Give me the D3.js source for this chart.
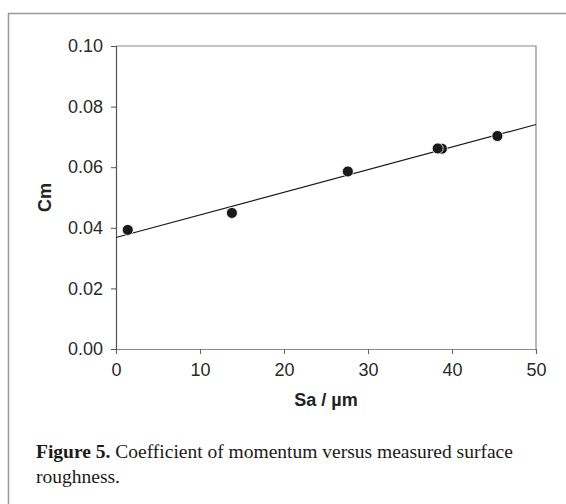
<!DOCTYPE html>
<html>
<head>
<meta charset="utf-8">
<script src="https://cdn.jsdelivr.net/npm/d3@7"></script>
<style>
  body { margin: 0; background: #fff; }
  svg { display: block; }
</style>
</head>
<body>
<svg id="grafico" width="566" height="504"></svg>
<script>
// dados
const SA = [1.4, 13.8, 27.6, 38.8, 38.3, 45.4];
const CM = [0.0393, 0.0449, 0.0586, 0.0661, 0.0662, 0.0703];
// reta ajustada (extremos)
const FIT_X = [0, 50];
const FIT_Y = [0.0368, 0.0741];
const X_TICKS = [0, 10, 20, 30, 40, 50];
const Y_TICKS = [0, 0.02, 0.04, 0.06, 0.08, 0.10];

const MARGEM = { left: 116, top: 46, right: 536, bottom: 349 };

const $svg = d3.select('#grafico');

// moldura da figura
$svg.append('rect')
  .attr('x', 8.5).attr('y', 13.5)
  .attr('width', 600).attr('height', 600)
  .attr('fill', 'none')
  .attr('stroke', '#999')
  .attr('stroke-width', 1.5);

const x = d3.scaleLinear().domain([0, 50]).range([MARGEM.left, MARGEM.right]);
const y = d3.scaleLinear().domain([0, 0.10]).range([MARGEM.bottom, MARGEM.top]);

// caixa do gráfico (topo e direita)
$svg.append('path')
  .attr('d', `M${MARGEM.left},${MARGEM.top}H${MARGEM.right}V${MARGEM.bottom}`)
  .attr('fill', 'none')
  .attr('stroke', '#8a8a8a')
  .attr('stroke-width', 1.2);

const FONTE = 'Arial, "Liberation Sans", sans-serif';

const eixoX = $svg.append('g')
  .attr('transform', `translate(0,${MARGEM.bottom})`)
  .call(d3.axisBottom(x).tickValues(X_TICKS).tickSize(5).tickPadding(9).tickFormat(d3.format('d')));
eixoX.select('.domain').attr('stroke', '#8a8a8a').attr('stroke-width', 1.2);
eixoX.selectAll('.tick line').attr('stroke', '#666');

const eixoY = $svg.append('g')
  .attr('transform', `translate(${MARGEM.left},0)`)
  .call(d3.axisLeft(y).tickValues(Y_TICKS).tickSize(5).tickPadding(8).tickFormat(d3.format('.2f')));
eixoY.select('.domain').attr('stroke', '#555').attr('stroke-width', 1.2);
eixoY.selectAll('.tick line').attr('stroke', '#555');

$svg.selectAll('.tick text')
  .attr('font-family', FONTE)
  .attr('font-size', 18)
  .attr('fill', '#2a2a2a');

// reta de regressão
const linha = d3.line().x(d => x(d[0])).y(d => y(d[1]));
$svg.append('path')
  .datum(FIT_X.map((v, i) => [v, FIT_Y[i]]))
  .attr('d', linha)
  .attr('fill', 'none')
  .attr('stroke', '#1a1a1a')
  .attr('stroke-width', 1.2);

// pontos
$svg.append('g')
  .selectAll('circle')
  .data(SA.map((v, i) => ({ sa: v, cm: CM[i] })))
  .enter()
  .append('circle')
  .attr('cx', d => x(d.sa))
  .attr('cy', d => y(d.cm))
  .attr('r', 5.5)
  .attr('fill', '#1a1a1a')
  .attr('stroke', '#fff')
  .attr('stroke-width', 0.8);

// títulos dos eixos
$svg.append('text')
  .attr('x', (MARGEM.left + MARGEM.right) / 2)
  .attr('y', 406)
  .attr('text-anchor', 'middle')
  .attr('font-family', FONTE)
  .attr('font-weight', 'bold')
  .attr('font-size', 18)
  .attr('fill', '#222')
  .text('Sa / µm');

$svg.append('text')
  .attr('transform', `translate(51,${(MARGEM.top + MARGEM.bottom) / 2}) rotate(-90)`)
  .attr('text-anchor', 'middle')
  .attr('font-family', FONTE)
  .attr('font-weight', 'bold')
  .attr('font-size', 18)
  .attr('fill', '#222')
  .text('Cm');

// legenda da figura
const $legenda = $svg.append('text')
  .attr('font-family', '"Liberation Serif", "Times New Roman", serif')
  .attr('font-size', 19.5)
  .attr('fill', '#1a1a1a');

const l1 = $legenda.append('tspan').attr('x', 36).attr('y', 458);
l1.append('tspan').attr('font-weight', 'bold').text('Figure 5.');
l1.append('tspan').text(' Coefficient of momentum versus measured surface');
$legenda.append('tspan').attr('x', 36).attr('y', 483).text('roughness.');
</script>
</body>
</html>
